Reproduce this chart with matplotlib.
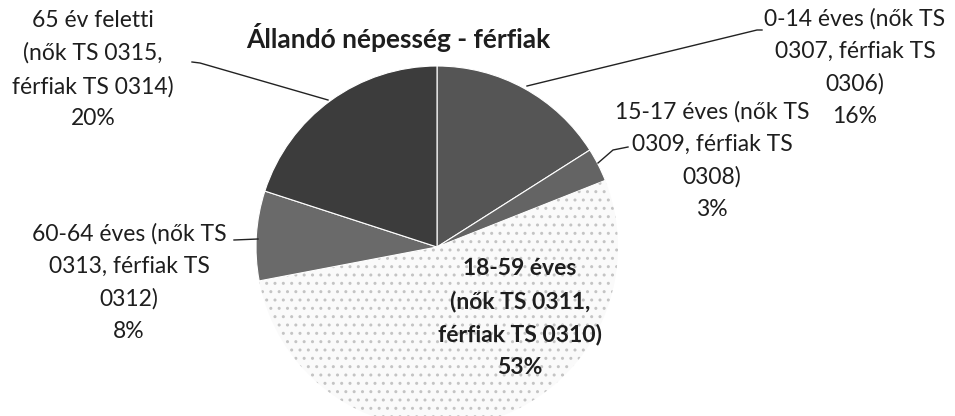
import matplotlib.pyplot as plt

plt.rcParams['font.family'] = ['Lato', 'DejaVu Sans']

# data
labels = [
    "0-14 éves (nők TS\n0307, férfiak TS\n0306)",
    "15-17 éves (nők TS\n0309, férfiak TS\n0308)",
    "18-59 éves\n(nők TS 0311,\nférfiak TS 0310)",
    "60-64 éves (nők TS\n0313, férfiak TS\n0312)",
    "65 év feletti\n(nők TS 0315,\nférfiak TS 0314)",
]
shares = [16, 3, 53, 8, 20]
colors = ["#555555", "#646464", "#fafafa", "#6a6a6a", "#3c3c3c"]

W, H = 955, 416
fig = plt.figure(figsize=(W / 100, H / 100), dpi=100)
ax = fig.add_axes([0, 0, 1, 1])

cx, cy, r = 437, H - 247, 181

wedges, _ = ax.pie(
    shares,
    colors=colors,
    startangle=90,
    counterclock=False,
    center=(cx, cy),
    radius=r,
    frame=True,
    wedgeprops=dict(edgecolor="white", linewidth=0.8),
)
ax.set_xlim(0, W)
ax.set_ylim(0, H)
ax.set_aspect('equal')
ax.axis('off')

# sparse dotted texture on the big light slice
wedges[2].set_hatch("..")
wedges[2].set_edgecolor("#c4c4c4")
wedges[2].set_linewidth(0)

txt = "#1e1e1e"
fs = 16.5

# label positions (text centre x, first line y in px from top), leader lines
label_pos = [(855, 20), (712, 113), (520, 270), (129, 235), (93, 22)]
leaders = [
    [(762, 30), (757, 30), (527, 86)],
    [(628, 147), (613, 150), (598, 163)],
    None,
    [(234, 240), (258, 239)],
    [(192, 62), (200, 63), (328, 100)],
]

for i in range(len(shares)):
    x, y = label_pos[i]
    s = labels[i] + "\n" + f"{shares[i]}%"
    ax.text(x, H - y + 12, s, ha='center', va='top', fontsize=fs,
            color=txt, linespacing=1.66,
            fontweight='bold' if i == 2 else 'normal')
    if leaders[i]:
        xs = [p[0] for p in leaders[i]]
        ys = [H - p[1] for p in leaders[i]]
        ax.plot(xs, ys, color="#222222", linewidth=1.0)

ax.text(398, H - 37, "Állandó népesség - férfiak", ha='center', va='center',
        fontsize=19, fontweight='bold', color=txt)

fig.savefig("out.png", dpi=100)
plt.close()
